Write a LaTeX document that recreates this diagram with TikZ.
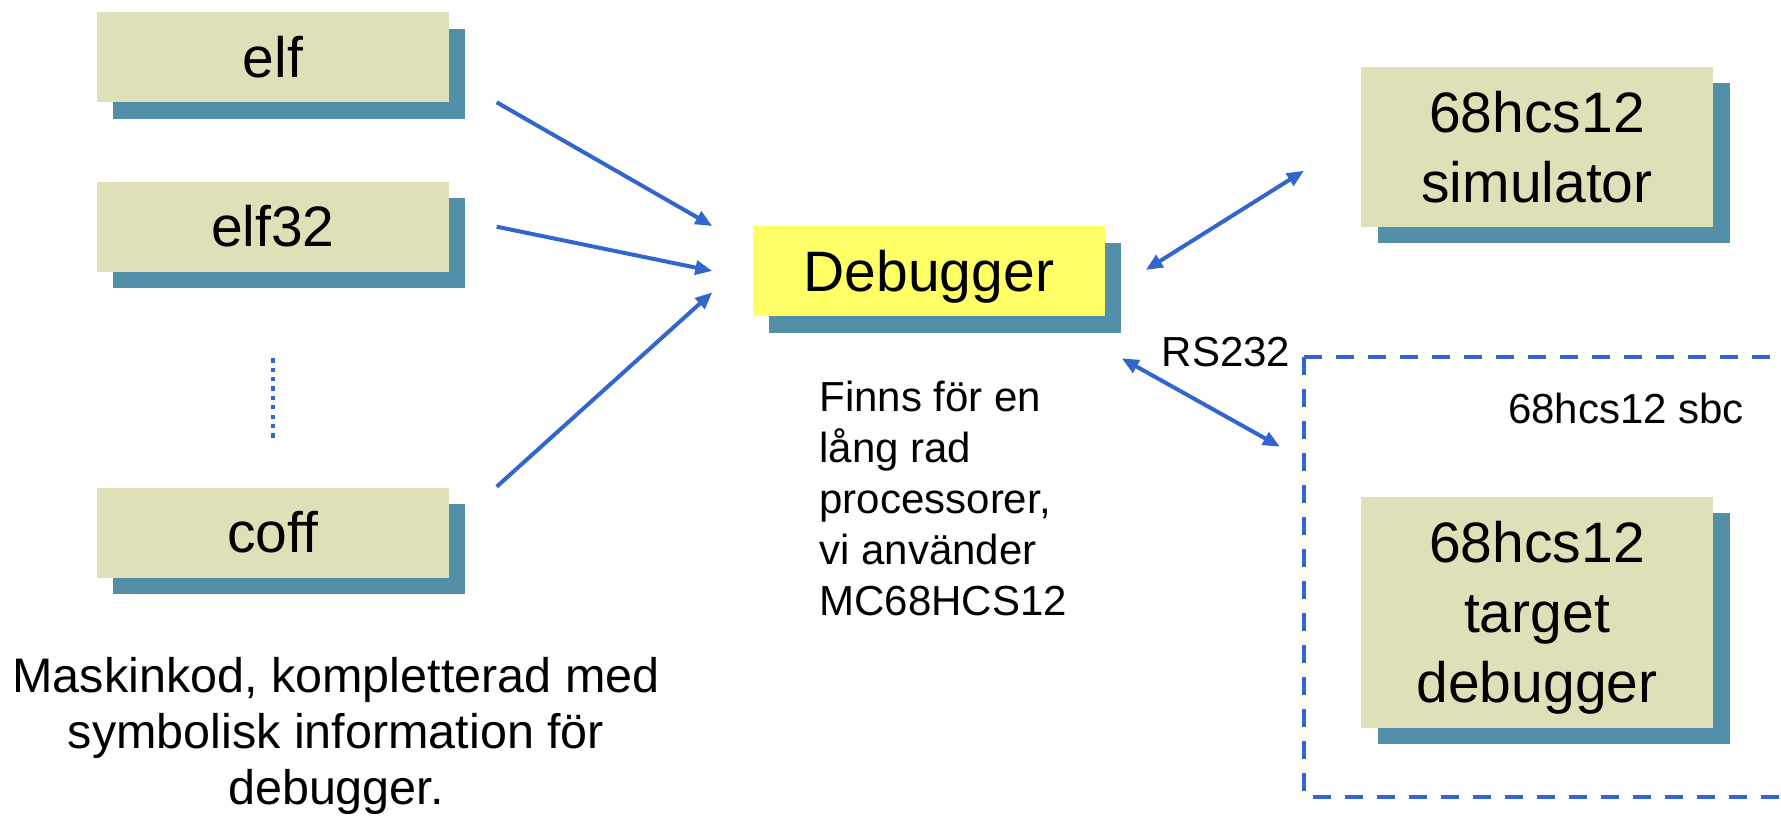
\documentclass[tikz,border=0pt]{standalone}
\usepackage{fontspec}
\setmainfont{Liberation Sans}
\usetikzlibrary{arrows.meta,shadows}
\definecolor{boxfill}{HTML}{E0E0B8}
\definecolor{boxshadow}{HTML}{548FAA}
\definecolor{dbgfill}{HTML}{FFFF66}
\definecolor{arrowblue}{HTML}{3366CC}
\begin{document}
\begin{tikzpicture}[x=1pt,y=-1pt,
  filebox/.style={fill=boxfill, minimum width=352pt, inner sep=0pt, align=center,
    font=\fontsize{57}{70}\selectfont,
    general shadow={fill=boxshadow, shadow xshift=16.5pt, shadow yshift=-16.5pt}},
  conn/.style={draw=arrowblue, line width=4pt, -{Triangle[length=17pt,width=14pt]}},
  biconn/.style={draw=arrowblue, line width=4pt, {Triangle[length=17pt,width=14pt]}-{Triangle[length=17pt,width=14pt]}},
  label text/.style={inner sep=0pt, font=\fontsize{42}{51}\selectfont},
  frame line/.style={draw=arrowblue, line width=4pt, dash pattern=on 18pt off 14pt},
]
\useasboundingbox (0,0) rectangle (1781,815);
\clip (0,0) rectangle (1781,815);

% boxes
\node[filebox, minimum height=90pt] (elf) at (272.9,57) {elf};
\node[filebox, minimum height=90pt] (elf32) at (272.9,226.5) {elf32};
\node[filebox, minimum height=90pt] (coff) at (272.9,532.5) {coff};
\node[filebox, fill=dbgfill, minimum height=90pt] (dbg) at (928.9,271) {\raisebox{0pt}[\height][0pt]{Debugger}};
\node[filebox, minimum height=160pt] (sim) at (1537,146.7) {68hcs12\\simulator};
\node[filebox, minimum height=231pt] (tgt) at (1537,612.3) {68hcs12\\target\\\raisebox{0pt}[\height][0pt]{debugger}};

% dotted ellipsis
\coordinate (dotA) at (272.7,358.3);
\coordinate (dotB) at (272.7,437.7);
\draw[arrowblue, line width=4pt, dash pattern=on 4.3pt off 5.07pt] (dotA) -- (dotB);

% connector end points
\coordinate (a1s) at (496.7,102.3);
\coordinate (a1e) at (712.3,226);
\coordinate (a2s) at (496.7,226.7);
\coordinate (a2e) at (712.3,271);
\coordinate (a3s) at (496.7,486.7);
\coordinate (a3e) at (712.3,292.3);
\coordinate (b1s) at (1145.7,270);
\coordinate (b1e) at (1304,170.7);
\coordinate (b2s) at (1121.7,358.3);
\coordinate (b2e) at (1280,446.7);

\draw[conn] (a1s) -- (a1e);
\draw[conn] (a2s) -- (a2e);
\draw[conn] (a3s) -- (a3e);
\draw[biconn] (b1s) -- (b1e);
\draw[biconn] (b2s) -- (b2e);

% dashed frame of the sbc
\draw[frame line] (1304,357.3) -- (1800,357.3);
\draw[frame line] (1304,357.3) -- (1304,796.7) -- (1800,796.7);

% texts (base anchor = baseline of the last line)
\node[label text, anchor=base west, align=left] (finns) at (819.4,615.7)
  {Finns för en\\lång rad\\processorer,\\vi använder\\MC68HCS12};
\node[label text, anchor=base west] (rs) at (1161.7,366.7) {RS232};
\node[label text, anchor=base west] (sbc) at (1508,423.3) {68hcs12 sbc};
\node[inner sep=0pt, anchor=base, align=center, font=\fontsize{48.5}{56}\selectfont] (caption) at (336,804)
  {Maskinkod, kompletterad med\\symbolisk information för\\debugger.};
\end{tikzpicture}
\end{document}
